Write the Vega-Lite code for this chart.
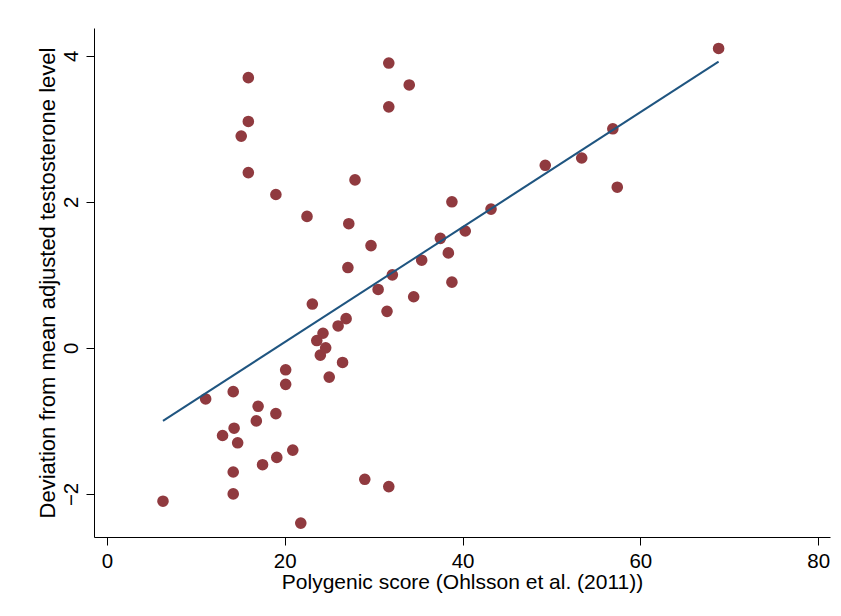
{
  "$schema": "https://vega.github.io/schema/vega-lite/v6.json",
  "autosize": "none",
  "width": 736,
  "height": 509,
  "padding": {"left": 94, "top": 28, "right": 11, "bottom": 79},
  "background": "white",
  "config": {"view": {"stroke": null}, "font": "Liberation Sans"},
  "datasets": {
    "points": [
      {"score": 6.3, "dev": -2.1}, {"score": 11.1, "dev": -0.7}, {"score": 13.0, "dev": -1.2},
      {"score": 14.2, "dev": -0.6}, {"score": 14.3, "dev": -1.1}, {"score": 14.7, "dev": -1.3},
      {"score": 14.2, "dev": -1.7}, {"score": 14.2, "dev": -2.0}, {"score": 15.1, "dev": 2.9},
      {"score": 15.9, "dev": 3.7}, {"score": 15.9, "dev": 3.1}, {"score": 15.9, "dev": 2.4},
      {"score": 17.0, "dev": -0.8}, {"score": 16.8, "dev": -1.0}, {"score": 17.5, "dev": -1.6},
      {"score": 19.0, "dev": 2.1}, {"score": 19.0, "dev": -0.9}, {"score": 19.1, "dev": -1.5},
      {"score": 20.1, "dev": -0.3}, {"score": 20.1, "dev": -0.5}, {"score": 20.9, "dev": -1.4},
      {"score": 21.8, "dev": -2.4}, {"score": 22.5, "dev": 1.8}, {"score": 23.1, "dev": 0.6},
      {"score": 23.6, "dev": 0.1}, {"score": 24.0, "dev": -0.1}, {"score": 24.3, "dev": 0.2},
      {"score": 24.6, "dev": 0.0}, {"score": 25.0, "dev": -0.4}, {"score": 26.0, "dev": 0.3},
      {"score": 26.5, "dev": -0.2}, {"score": 26.9, "dev": 0.4}, {"score": 27.1, "dev": 1.1},
      {"score": 27.2, "dev": 1.7}, {"score": 27.9, "dev": 2.3}, {"score": 29.0, "dev": -1.8},
      {"score": 29.7, "dev": 1.4}, {"score": 30.5, "dev": 0.8}, {"score": 31.5, "dev": 0.5},
      {"score": 31.7, "dev": 3.9}, {"score": 31.7, "dev": 3.3}, {"score": 31.7, "dev": -1.9},
      {"score": 32.1, "dev": 1.0}, {"score": 34.0, "dev": 3.6}, {"score": 34.5, "dev": 0.7},
      {"score": 35.4, "dev": 1.2}, {"score": 37.5, "dev": 1.5}, {"score": 38.4, "dev": 1.3},
      {"score": 38.8, "dev": 2.0}, {"score": 38.8, "dev": 0.9}, {"score": 40.3, "dev": 1.6},
      {"score": 43.2, "dev": 1.9}, {"score": 49.3, "dev": 2.5}, {"score": 53.4, "dev": 2.6},
      {"score": 56.9, "dev": 3.0}, {"score": 57.4, "dev": 2.2}, {"score": 68.8, "dev": 4.1}
    ],
    "fit": [
      {"score": 6.3, "fitted": -1.0},
      {"score": 68.8, "fitted": 3.92}
    ]
  },
  "layer": [
    {
      "data": {"name": "points"},
      "mark": {"type": "circle", "size": 135, "color": "#903a3f", "opacity": 1},
      "encoding": {
        "x": {
          "field": "score", "type": "quantitative",
          "scale": {"domain": [-1.46, 81.33], "nice": false, "zero": false},
          "axis": {
            "title": "Polygenic score (Ohlsson et al. (2011))",
            "values": [0, 20, 40, 60, 80], "format": "d",
            "grid": false, "domainColor": "#000000", "tickColor": "#000000",
            "tickSize": 8, "labelFontSize": 20.5, "labelColor": "#000000",
            "labelPadding": 6, "titleFontSize": 21, "titleFontWeight": "normal",
            "titleColor": "#000000", "titlePadding": 0, "labelFlush": false
          }
        },
        "y": {
          "field": "dev", "type": "quantitative",
          "scale": {"domain": [-2.59, 4.38], "nice": false, "zero": false},
          "axis": {
            "title": "Deviation from mean adjusted testosterone level",
            "values": [-2, 0, 2, 4], "format": "d",
            "grid": false, "domainColor": "#000000", "tickColor": "#000000",
            "tickSize": 8, "labelFontSize": 20.5, "labelColor": "#000000",
            "labelAngle": -90, "labelAlign": "center", "labelBaseline": "bottom",
            "labelPadding": 5, "titleFontSize": 22, "titleFontWeight": "normal",
            "titleColor": "#000000", "titlePadding": 2, "labelFlush": false
          }
        }
      }
    },
    {
      "data": {"name": "fit"},
      "mark": {"type": "line", "color": "#1f5580", "strokeWidth": 2},
      "encoding": {
        "x": {"field": "score", "type": "quantitative"},
        "y": {"field": "fitted", "type": "quantitative"}
      }
    }
  ]
}
